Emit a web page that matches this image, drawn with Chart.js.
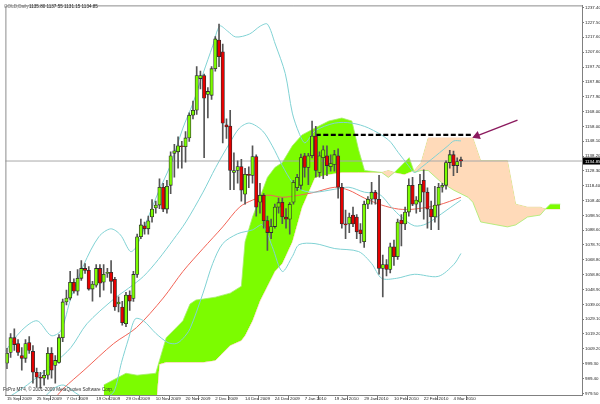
<!DOCTYPE html>
<html>
<head>
<meta charset="utf-8">
<script src="https://cdn.jsdelivr.net/npm/chart.js@4.4.0/dist/chart.umd.min.js"></script>
<style>
  html, body { margin: 0; padding: 0; background: #fff; }
  #wrap { width: 600px; height: 404px; }
</style>
</head>
<body>
<div id="wrap"><canvas id="chart" width="600" height="404"></canvas></div>
<script>
// ========== DATA ==========
const dateLabels = ['15 Sep 2009', '25 Sep 2009', '7 Oct 2009', '19 Oct 2009', '29 Oct 2009', '10 Nov 2009',
  '20 Nov 2009', '2 Dec 2009', '14 Dec 2009', '24 Dec 2009', '7 Jan 2010', '19 Jan 2010', '29 Jan 2010',
  '10 Feb 2010', '22 Feb 2010', '4 Mar 2010'];
const dateTickBars = [0, 8, 16, 24, 32, 40, 48, 56, 64, 72, 80, 88, 96, 104, 112, 120];

const priceTicks = [1237.40, 1227.50, 1217.60, 1207.60, 1197.70, 1187.80, 1177.90, 1168.00, 1158.00, 1148.10,
  1138.20, 1128.30, 1118.40, 1108.40, 1098.50, 1088.60, 1078.70, 1068.80, 1058.80, 1048.90, 1039.00, 1029.10,
  1019.20, 1009.20, 999.30, 989.40, 979.50];
const lastPrice = 1134.85;

// daily candles, one per bar from 15 Sep 2009
const opens = [999.6, 1006.8, 1016.7, 1012.8, 1004.8, 1002.9, 1013.4, 1007.5, 993.6, 990.3,
  989.6, 991.6, 1006.2, 998.2, 1000.2, 1016.7, 1040.6, 1043.2, 1053.8, 1047.8,
  1056.4, 1063.0, 1061.7, 1049.2, 1051.8, 1063.0, 1053.8, 1059.7, 1060.4, 1055.8,
  1039.2, 1037.2, 1026.0, 1045.2, 1043.0, 1059.0, 1084.2, 1091.5, 1089.5, 1097.4,
  1103.4, 1105.4, 1117.3, 1102.7, 1118.6, 1140.0, 1141.0, 1145.0, 1144.4, 1150.3,
  1165.5, 1168.8, 1190.0, 1192.0, 1179.4, 1178.8, 1196.6, 1215.8, 1207.9, 1159.0,
  1158.2, 1127.2, 1128.5, 1131.1, 1112.6, 1125.9, 1125.2, 1137.8, 1107.3, 1112.0,
  1095.0, 1087.0, 1091.0, 1104.0, 1107.3, 1097.4, 1096.0, 1107.3, 1117.0, 1118.6,
  1138.4, 1130.5, 1138.4, 1151.6, 1127.2, 1137.1, 1138.4, 1131.1, 1132.5, 1138.4,
  1117.3, 1092.8, 1092.8, 1098.7, 1097.4, 1088.8, 1080.9, 1106.0, 1109.3, 1114.0,
  1109.3, 1063.0, 1065.6, 1062.3, 1077.5, 1070.9, 1095.4, 1092.8, 1100.7, 1118.6,
  1106.0, 1107.3, 1121.9, 1114.0, 1102.7, 1097.4, 1105.4, 1117.3, 1118.6, 1133.8,
  1139.1, 1131.8, 1135.8];
const highs = [1009.5, 1019.4, 1022.7, 1015.4, 1010.1, 1015.4, 1017.4, 1011.4, 996.3, 993.6,
  994.9, 1010.1, 1010.1, 1004.8, 1018.7, 1042.6, 1048.5, 1061.0, 1056.1, 1062.3,
  1068.3, 1066.3, 1064.3, 1054.4, 1065.6, 1065.6, 1065.6, 1063.0, 1068.3, 1057.0,
  1044.0, 1041.0, 1047.0, 1048.0, 1061.0, 1086.0, 1096.0, 1094.0, 1098.0, 1109.0,
  1108.0, 1123.0, 1120.0, 1122.0, 1141.0, 1146.0, 1151.0, 1148.0, 1154.6, 1167.0,
  1175.0, 1198.0, 1195.0, 1193.0, 1184.0, 1198.0, 1218.0, 1226.4, 1213.0, 1163.0,
  1168.8, 1140.4, 1135.0, 1136.0, 1130.0, 1131.0, 1145.0, 1139.0, 1120.0, 1113.0,
  1098.0, 1096.0, 1106.0, 1110.0, 1110.0, 1103.0, 1107.0, 1122.0, 1126.0, 1139.5,
  1140.0, 1140.0, 1161.6, 1158.0, 1141.0, 1145.0, 1145.0, 1139.0, 1142.0, 1143.0,
  1120.0, 1102.0, 1100.0, 1104.0, 1099.0, 1093.0, 1108.0, 1111.0, 1120.6, 1115.3,
  1125.2, 1072.0, 1069.0, 1080.0, 1082.0, 1096.0, 1099.0, 1104.0, 1123.0, 1124.0,
  1111.0, 1126.0, 1129.0, 1117.0, 1108.0, 1118.0, 1120.0, 1120.0, 1135.0, 1142.0,
  1141.5, 1137.0, 1137.55];
const lows = [996.0, 1003.5, 1008.1, 1004.8, 995.0, 1000.2, 1006.2, 986.3, 983.7, 983.0,
  985.0, 989.0, 989.6, 986.3, 999.6, 1014.1, 1038.6, 1041.9, 1046.5, 1045.2,
  1055.0, 1059.7, 1048.5, 1041.2, 1050.5, 1043.9, 1048.5, 1057.0, 1046.5, 1035.0,
  1034.0, 1025.0, 1024.0, 1035.0, 1041.0, 1057.0, 1083.0, 1086.0, 1086.0, 1094.0,
  1100.0, 1103.0, 1101.0, 1100.0, 1113.0, 1124.0, 1130.0, 1130.0, 1134.0, 1148.0,
  1163.0, 1166.0, 1183.0, 1137.1, 1163.6, 1176.0, 1195.0, 1198.0, 1147.0, 1150.0,
  1115.7, 1115.7, 1120.0, 1108.0, 1106.0, 1117.0, 1120.0, 1098.0, 1100.0, 1090.0,
  1075.0, 1083.0, 1090.0, 1100.0, 1093.0, 1090.0, 1086.0, 1106.0, 1115.0, 1116.0,
  1124.0, 1119.0, 1137.0, 1124.0, 1124.0, 1123.0, 1125.0, 1128.0, 1128.0, 1110.0,
  1090.0, 1083.0, 1087.0, 1091.0, 1083.0, 1080.0, 1077.0, 1103.0, 1106.0, 1106.0,
  1059.1, 1044.0, 1058.0, 1060.0, 1065.0, 1069.0, 1078.0, 1089.0, 1098.0, 1105.0,
  1100.0, 1101.0, 1096.0, 1090.0, 1089.0, 1094.0, 1089.0, 1114.0, 1116.0, 1130.0,
  1125.0, 1127.0, 1131.15];
const closes = [1006.2, 1016.7, 1012.1, 1006.8, 1002.9, 1012.8, 1008.1, 993.6, 990.3, 989.6,
  991.6, 1006.2, 995.0, 1001.5, 1016.7, 1040.6, 1043.2, 1053.8, 1047.8, 1056.4,
  1063.0, 1061.7, 1049.2, 1052.5, 1063.0, 1053.1, 1059.1, 1060.4, 1054.4, 1037.2,
  1040.5, 1026.7, 1045.2, 1041.2, 1059.0, 1084.2, 1092.1, 1089.5, 1094.8, 1102.7,
  1105.4, 1117.3, 1102.7, 1118.0, 1138.4, 1141.7, 1145.0, 1144.4, 1150.3, 1165.5,
  1168.8, 1192.0, 1192.0, 1176.8, 1181.4, 1196.6, 1216.5, 1204.6, 1160.2, 1157.6,
  1128.5, 1128.5, 1131.1, 1115.3, 1125.9, 1125.2, 1137.8, 1104.0, 1112.0, 1095.0,
  1087.0, 1091.0, 1104.0, 1107.0, 1097.4, 1096.0, 1106.0, 1120.6, 1123.9, 1137.1,
  1130.5, 1138.4, 1151.6, 1128.5, 1138.4, 1142.4, 1131.8, 1133.1, 1139.1, 1117.3,
  1092.8, 1092.1, 1097.4, 1092.8, 1087.5, 1086.2, 1106.0, 1109.3, 1114.0, 1109.3,
  1063.0, 1065.6, 1062.3, 1077.5, 1070.9, 1094.0, 1092.8, 1100.7, 1118.6, 1106.0,
  1108.7, 1119.3, 1114.0, 1102.7, 1097.4, 1105.4, 1117.3, 1118.6, 1133.8, 1139.1,
  1131.8, 1134.5, 1134.85];

// Bollinger bands (cyan) and the red moving average, sampled along the drawn lines
const bbUpperBars = [-0.7, 3.9, 8.1, 11.9, 14.5, 17.2, 20.7, 24.7, 27.9, 30.5, 33.2, 34.8, 38, 40.7, 43.9, 47.3,
  50, 52.7, 55.3, 57.2, 59.3, 61.5, 65.2, 68.1, 70, 72.1, 74.8, 76.7, 78.5, 80.1, 82.8, 88.1, 92.7, 97.2,
  102.5, 105.2, 107.9, 109.5, 111.3, 114, 118.5, 120.1, 122];
const bbUpper = [1006.8, 1021.4, 1028.0, 1018.1, 1021.4, 1043.2, 1065.7, 1084.2, 1089.5, 1085.5, 1074.3, 1077.6,
  1097.4, 1114.0, 1131.8, 1156.9, 1173.5, 1193.3, 1211.8, 1225.1, 1221.7, 1217.8, 1219.8, 1225.1, 1226.4, 1213.1,
  1193.3, 1166.9, 1153.6, 1147.0, 1155.0, 1160.2, 1160.2, 1156.9, 1149.0, 1140.4, 1131.8, 1127.2, 1130.5, 1135.8,
  1145.0, 1148.3, 1148.3];
const bbMiddleBars = [-0.7, 4.7, 8.1, 12.7, 17.2, 21.5, 28.7, 32.7, 36.7, 40.7, 44.7, 48.1, 52.7, 56.1, 59.9, 62.5,
  65.2, 68.7, 71.3, 74, 76.7, 79.3, 82.8, 88.1, 91.9, 96.1, 100.1, 103.3, 106, 109.5, 112.7, 116.7, 119.3, 122];
const bbMiddle = [975.1, 983.7, 990.3, 999.6, 1010.1, 1026.0, 1042.5, 1049.8, 1057.7, 1069.0, 1082.2, 1094.1,
  1114.0, 1130.5, 1147.0, 1156.9, 1160.2, 1155.0, 1145.0, 1131.8, 1120.6, 1115.3, 1114.0, 1116.0, 1117.3, 1114.0,
  1112.6, 1104.0, 1097.4, 1091.5, 1092.8, 1099.4, 1104.0, 1108.7];
const bbLowerBars = [-0.7, 10, 12.7, 15.3, 18.5, 22, 26, 28.7, 30.8, 32.7, 34.5, 36.7, 40.1, 43.3, 45.5, 47.3, 49.2,
  52.7, 55.3, 58, 62, 66, 68.7, 71.3, 74, 76.7, 78.5, 82.8, 88.1, 94.5, 98, 100.7, 104.7, 109.5, 115.9, 120.1, 122];
const bbLower = [961.9, 977.1, 983.0, 985.0, 979.7, 975.1, 976.4, 980.4, 1000.2, 1016.1, 1029.3, 1028.0, 1019.4,
  1013.4, 1012.8, 1016.1, 1022.7, 1046.5, 1066.3, 1079.6, 1086.2, 1088.8, 1092.1, 1077.6, 1061.0, 1071.0, 1078.9,
  1079.6, 1076.3, 1074.3, 1066.3, 1056.4, 1056.4, 1059.1, 1057.7, 1065.7, 1073.0];
const maBars = [13.2, 15.3, 20.7, 28.7, 34.8, 42, 47.3, 52.7, 58, 62.5, 66, 70, 74, 78.5, 82.8, 88.1, 91.9, 96.1,
  100.7, 105.2, 109.5, 115.9, 122];
const maRed = [977.1, 983.0, 994.9, 1012.8, 1023.4, 1043.2, 1061.0, 1076.3, 1090.8, 1104.0, 1108.7, 1112.0,
  1110.6, 1112.0, 1114.0, 1117.3, 1115.3, 1110.0, 1105.4, 1102.7, 1102.7, 1105.4, 1110.6];

// Ichimoku cloud edges (span A / span B), shifted 26 bars ahead
const cloudBars = [26, 32, 35, 40, 41, 42.8, 45.5, 47.3, 49.2, 50.8, 52.7, 56, 60, 63, 64, 66, 68, 70, 72, 74,
  76.7, 79.3, 82.8, 86.5, 90, 92.7, 94.5, 96.1, 100.7, 102.5, 104.1, 106.8, 108.1, 109.5, 111.3, 113.2, 116.7,
  120.1, 123.9, 125.2, 127.3, 134.5, 136.7, 139.9, 143.3, 144.7, 146, 148.7];
const spanA = [985.0, 992.9, 991.6, 992.9, 1001.5, 1016.7, 1023.4, 1028.0, 1039.2, 1041.9, 1042.5, 1043.8,
  1046.5, 1051.1, 1080.9, 1097.4, 1110.6, 1123.9, 1130.5, 1133.8, 1145.0, 1152.3, 1156.9, 1161.6, 1163.6, 1161.6,
  1142.4, 1128.5, 1127.2, 1123.9, 1127.2, 1133.8, 1137.1, 1127.2, 1128.5, 1128.5, 1120.6, 1115.3, 1110.6, 1107.3,
  1094.1, 1090.8, 1092.1, 1097.4, 1098.7, 1102.7, 1106.0, 1106.0];
const spanB = [968.5, 968.5, 968.5, 968.5, 998.9, 1000.2, 1000.2, 1000.2, 1000.2, 1000.2, 1000.2, 1001.5,
  1011.5, 1014.8, 1018.1, 1028.0, 1041.2, 1051.1, 1061.0, 1066.3, 1080.9, 1104.0, 1123.9, 1125.9, 1127.2, 1127.2,
  1127.2, 1127.2, 1127.2, 1128.5, 1127.2, 1125.9, 1127.2, 1128.5, 1133.8, 1150.3, 1150.3, 1150.3, 1150.3, 1150.3,
  1135.1, 1135.1, 1106.0, 1104.0, 1104.0, 1102.7, 1102.7, 1102.7];

// hand-drawn marks: dashed resistance line and the arrow pointing at it
const resistBars = [83, 125.2];
const resistLevel = 1152.3;
const arrowBars = [137.2, 126.3];
const arrowPrices = [1162.2, 1151.6];

// ========== HELPERS ==========
const FONT = 'Liberation Sans, Arial, sans-serif';
const GREEN = '#7cfc00';
const RED = '#e60000';
const PEACH = '#ffdab9';
const CYAN = '#80d2d4';

function toPoints(xs, ys) {
  return xs.map((x, i) => ({ x: x, y: ys[i] }));
}

function lineSet(points, color, width, order) {
  return {
    type: 'line',
    data: points,
    borderColor: color,
    borderWidth: width,
    pointRadius: 0,
    tension: 0.3,
    fill: false,
    order: order
  };
}

// text drawn by MT4 on top of the chart, plus the frame and price box
const overlayPlugin = {
  id: 'overlay',
  afterDraw(chart) {
    const ctx = chart.ctx;
    const area = chart.chartArea;
    const y = chart.scales.y;
    ctx.save();
    ctx.strokeStyle = '#8c8c8c';
    ctx.lineWidth = 1;
    ctx.beginPath();
    ctx.moveTo(area.left + 0.5, area.bottom);
    ctx.lineTo(area.left + 0.5, area.top + 0.5);
    ctx.lineTo(area.right, area.top + 0.5);
    ctx.stroke();

    ctx.font = '4.6px ' + FONT;
    ctx.textBaseline = 'top';
    ctx.fillStyle = '#777';
    ctx.fillText('GOLD,Daily', 4, 4);
    ctx.fillStyle = '#222';
    ctx.fillText('1135.80 1137.55 1131.15 1134.85', 29, 4);
    ctx.fillStyle = '#333';
    ctx.fillText('FxPro MT4, \u00a9 2001-2009 MetaQuotes Software Corp.', 3, 387);

    const py = y.getPixelForValue(lastPrice);
    ctx.fillStyle = '#000';
    ctx.fillRect(area.right + 1, py - 3.5, 600 - area.right - 1, 7);
    ctx.fillStyle = '#fff';
    ctx.font = '4.4px ' + FONT;
    ctx.textBaseline = 'middle';
    ctx.fillText(lastPrice.toFixed(2), area.right + 3, py + 0.3);
    ctx.restore();
  }
};

// ========== CHART ==========
const bodyColors = opens.map((o, i) => closes[i] >= o ? GREEN : RED);

new Chart(document.getElementById('chart'), {
  type: 'bar',
  data: {
    datasets: [
      {
        type: 'bar',
        data: opens.map((o, i) => ({ x: i, y: [o, closes[i]] })),
        backgroundColor: bodyColors,
        borderColor: '#2d2d2d',
        borderWidth: 0.8,
        borderSkipped: false,
        barThickness: 3.4,
        minBarLength: 1,
        grouped: false,
        order: 0
      },
      {
        type: 'bar',
        data: lows.map((l, i) => ({ x: i, y: [l, highs[i]] })),
        backgroundColor: '#555',
        barThickness: 1,
        grouped: false,
        order: 1
      },
      lineSet(toPoints(bbUpperBars, bbUpper), CYAN, 1, 3),
      lineSet(toPoints(bbMiddleBars, bbMiddle), CYAN, 1, 3),
      lineSet(toPoints(bbLowerBars, bbLower), CYAN, 1, 3),
      lineSet(toPoints(maBars, maRed), '#f26457', 1, 3),
      {
        type: 'line',
        data: [{ x: -2, y: lastPrice }, { x: 160, y: lastPrice }],
        borderColor: '#a8a8a8',
        borderWidth: 1,
        pointRadius: 0,
        order: 2
      },
      {
        type: 'line',
        data: resistBars.map(b => ({ x: b, y: resistLevel })),
        borderColor: '#000',
        borderWidth: 2.2,
        borderDash: [5, 2.5],
        pointRadius: 0,
        order: 2
      },
      {
        type: 'line',
        data: toPoints(arrowBars, arrowPrices),
        borderColor: '#8b1a5e',
        backgroundColor: '#8b1a5e',
        borderWidth: 1.4,
        pointStyle: 'triangle',
        pointRadius: [0, 3.6],
        pointRotation: 249,
        order: 2
      },
      {
        type: 'line',
        data: toPoints(cloudBars, spanA),
        borderColor: '#a4ee6a',
        borderWidth: 0.8,
        pointRadius: 0,
        fill: { target: '+1', above: GREEN, below: PEACH },
        order: 8
      },
      {
        type: 'line',
        data: toPoints(cloudBars, spanB),
        borderColor: '#f8d3b3',
        borderWidth: 0.8,
        pointRadius: 0,
        fill: false,
        order: 9
      }
    ]
  },
  options: {
    responsive: false,
    animation: false,
    devicePixelRatio: 1,
    layout: { padding: { left: 1, top: 1, right: 0, bottom: 0 } },
    plugins: {
      legend: { display: false },
      tooltip: { enabled: false }
    },
    scales: {
      x: {
        type: 'linear',
        min: -0.4,
        max: 154.53,
        offset: false,
        afterFit(scale) { scale.height = 9; },
        afterBuildTicks(scale) { scale.ticks = dateTickBars.map(v => ({ value: v - 0.4 })); },
        ticks: {
          callback: (v, i) => dateLabels[i],
          font: { family: FONT, size: 4.4 },
          color: '#222',
          align: 'start',
          labelOffset: 1.5,
          padding: -4,
          maxRotation: 0,
          autoSkip: false
        },
        grid: { drawOnChartArea: false, drawTicks: true, tickLength: 5, color: '#777' },
        border: { color: '#808080' }
      },
      y: {
        type: 'linear',
        position: 'right',
        min: 978.37,
        max: 1238.92,
        afterFit(scale) { scale.width = 18; },
        afterBuildTicks(scale) { scale.ticks = priceTicks.map(v => ({ value: v })); },
        ticks: {
          callback: (v) => v.toFixed(2),
          font: { family: FONT, size: 4.4 },
          color: '#222',
          padding: 1,
          autoSkip: false
        },
        grid: { drawOnChartArea: false, drawTicks: true, tickLength: 2, color: '#777' },
        border: { color: '#808080' }
      }
    }
  },
  plugins: [overlayPlugin]
});
</script>
</body>
</html>
